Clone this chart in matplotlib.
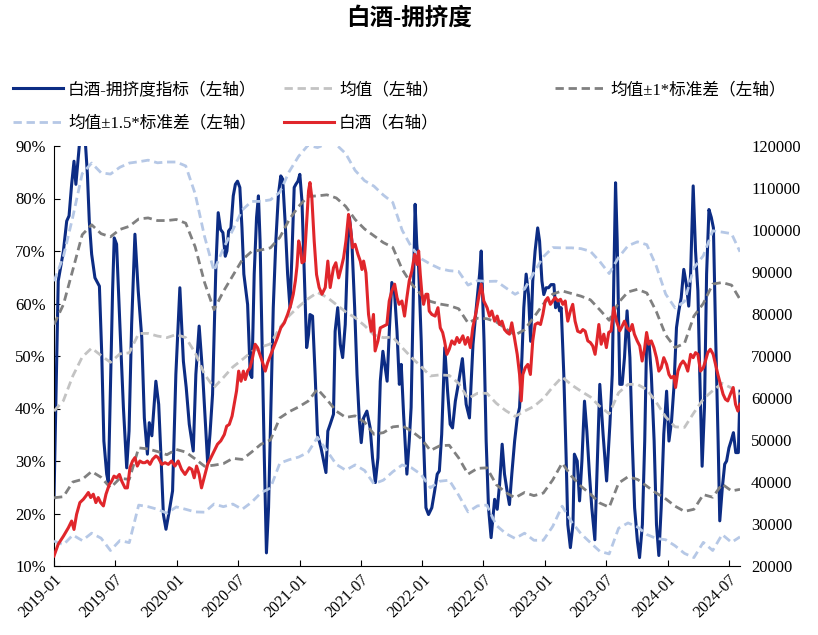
import numpy as np
import pandas as pd
import matplotlib
matplotlib.use("Agg")
import matplotlib.pyplot as plt
import matplotlib.dates as mdates
from matplotlib.ticker import FuncFormatter, MultipleLocator

FONTS = ['Liberation Serif', 'Noto Sans CJK SC']
plt.rcParams['font.family'] = FONTS

START = pd.Timestamp('2019-01-01')

# ---- data: x values are weeks since 2019-01-01 ----
blue_wk = [0, 1.8, 4.0, 5.4, 6.4, 7.5, 8.5, 9.3, 11.0, 13.2, 14.2, 15.0, 16.0, 17.4, 19.3, 20.3,
           21.2, 22.4, 23.1, 23.8, 24.9, 25.6, 26.6, 28.0, 29.5, 30.9, 31.9, 33.0, 34.4, 35.8,
           37.3, 38.4, 39.7, 40.5, 41.6, 43.3, 44.5, 45.5, 46.5, 47.6, 49.0, 50.4, 51.8, 53.5,
           55.0, 56.2, 57.5, 59.2, 60.3, 61.7, 63.2, 64.6, 65.3, 66.3, 67.4, 68.8, 69.8, 70.8,
           71.8, 72.8, 73.5, 74.2, 75.2, 76.2, 77.1, 78.0, 79.0, 79.9, 80.7, 82.3, 83.4, 84.1,
           85.1, 86.1, 86.9, 87.6, 88.7, 89.4, 90.3, 91.2, 92.2, 93.2, 94.3, 95.4, 96.4, 97.2,
           98.3, 99.3, 100.3, 101.1, 102.1, 102.8, 103.7, 104.5, 105.4, 106.4, 107.4, 108.2,
           108.8, 109.9, 111.0, 112.0, 113.5, 115.6, 116.4, 117.4, 118.8, 119.5, 120.6, 121.7,
           122.7, 123.8, 124.9, 125.6, 126.6, 127.8, 128.8, 129.8, 130.6, 131.6, 133.0, 134.4,
           135.4, 136.6, 137.7, 138.7, 139.8, 140.8, 141.6, 142.6, 143.6, 144.7, 145.8, 146.8,
           147.6, 148.6, 150.0, 151.0, 151.8, 152.8, 153.5, 154.2, 155.0, 156.1, 157.1, 158.1,
           159.2, 160.6, 161.8, 162.9, 163.8, 164.8, 166.1, 167.3, 168.4, 169.4, 170.6, 172.0,
           173.6, 175.2, 176.6, 178.1, 179.5, 180.9, 181.6, 182.8, 183.7, 184.7, 185.8, 187.3,
           188.4, 189.4, 190.5, 191.5, 192.6, 193.6, 194.6, 195.8, 196.9, 197.9, 198.9, 199.7,
           200.7, 201.7, 202.6, 203.5, 204.5, 205.6, 206.4, 207.4, 208.2, 209.2, 210.2, 211.3,
           212.5, 213.2, 214.2, 214.9, 215.6, 216.7, 217.7, 218.4, 219.5, 220.6, 221.2, 222.4,
           223.4, 224.4, 225.5, 226.5, 227.6, 228.6, 229.9, 232.0, 233.4, 234.9, 236.3, 237.3,
           238.0, 238.7, 239.4, 240.5, 241.5, 242.5, 243.6, 244.8, 245.8, 246.8, 248.0, 248.9,
           250.1, 251.1, 251.9, 252.9, 253.9, 255.1, 256.1, 257.1, 258.1, 259.2, 260.4, 261.4,
           262.5, 263.5, 264.6, 265.6, 266.6, 267.7, 268.8, 269.8, 270.6, 271.7, 272.7, 273.7,
           274.5, 275.5, 276.5, 277.4, 278.4, 279.4, 280.3, 281.3, 282.3, 283.0, 284.1, 285.1,
           285.9, 286.9, 287.8, 288.8, 289.8, 290.9, 291.6]
blue_val = [23.0, 64.3, 70.0, 75.7, 76.7, 82.7, 87.1, 82.7, 91.3, 91.6, 84.6, 75.7, 69.4, 64.9, 63.3, 50.3,
            33.8, 27.5, 25.9, 40.2, 62.4, 72.5, 71.3, 56.0, 40.2, 28.7, 35.7, 56.0, 73.2, 62.4,
            53.5, 38.2, 31.3, 37.3, 34.8, 45.2, 40.8, 30.6, 19.8, 17.0, 20.5, 24.3, 46.5, 63.0,
            49.0, 44.0, 37.0, 31.9, 46.5, 55.7, 46.5, 35.1, 29.7, 35.1, 42.7, 66.8, 77.3, 74.1,
            73.5, 69.0, 70.0, 73.8, 74.4, 80.5, 82.7, 83.3, 82.1, 74.4, 65.6, 59.8, 46.5, 45.9,
            65.6, 76.4, 80.5, 71.9, 46.5, 30.6, 12.5, 21.1, 40.2, 59.2, 71.9, 80.8, 84.3, 83.7,
            75.1, 65.6, 59.2, 68.7, 82.1, 82.7, 83.3, 84.6, 79.5, 65.6, 51.6, 54.1,
            57.9, 57.6, 46.5, 35.1, 32.5, 27.8, 35.7, 37.0, 38.9, 54.7, 59.2, 52.2,
            49.7, 56.0, 71.3, 76.4, 71.9, 59.2, 46.5, 37.6, 33.5, 38.2, 39.5, 36.3,
            30.6, 25.9, 30.6, 45.2, 50.9, 47.8, 45.2, 55.4, 64.0, 62.4, 54.7, 44.6,
            48.4, 38.9, 27.5, 33.8, 40.2, 62.4, 78.9, 71.3, 66.8, 52.8, 33.8, 21.1,
            19.8, 21.1, 24.3, 27.5, 28.1, 35.1, 51.6, 43.3, 37.0, 36.3, 41.4, 45.0,
            49.5, 40.8, 38.2, 52.2, 59.2, 65.6, 70.0, 52.8, 33.8, 21.1, 15.4, 22.7,
            20.8, 25.5, 33.2, 27.5, 24.3, 21.7, 27.5, 33.8, 38.2, 40.2, 49.7, 59.2,
            65.6, 61.7, 52.8, 64.3, 70.0, 74.4, 71.9, 64.3, 61.7, 63.0, 63.0, 63.6,
            63.6, 59.2, 60.5, 58.6, 59.2, 46.5, 30.6, 17.9, 13.5, 17.9, 31.3, 30.0,
            22.4, 30.0, 41.4, 35.7, 27.5, 21.1, 15.0, 44.6, 35.1, 26.2, 37.0, 46.5,
            65.6, 83.0, 71.9, 44.6, 44.6, 49.7, 58.6, 49.7, 33.8, 21.1, 14.7, 11.6,
            17.9, 33.8, 52.8, 52.8, 46.5, 33.8, 17.9, 12.0, 21.1, 35.1, 43.3, 33.8,
            37.6, 44.0, 55.4, 58.6, 61.1, 66.5, 63.6, 59.5, 65.6, 82.4, 70.0, 62.4,
            46.5, 29.0, 40.2, 65.6, 77.9, 76.4, 74.4, 52.8, 33.8, 18.6, 25.0, 29.4,
            30.0, 32.5, 33.8, 35.4, 31.6, 31.6, 43.3]

red_wk = [0, 1.8, 4.0, 6.1, 7.5, 8.5, 9.6, 11.0, 12.5, 13.6, 14.6, 15.6, 16.7, 17.8, 18.8, 19.8,
          21.0, 22.1, 23.5, 24.5, 25.5, 26.6, 27.8, 28.8, 30.2, 31.2, 32.3, 33.4, 34.4, 35.4,
          36.5, 37.7, 38.7, 39.7, 40.8, 41.9, 43.3, 44.3, 45.8, 47.2, 48.6, 50.0, 51.4, 52.8,
          54.2, 55.7, 57.5, 58.6, 59.6, 60.6, 61.7, 62.7, 63.8, 65.3, 66.7, 68.1, 69.5, 70.9,
          72.4, 73.4, 74.5, 75.7, 76.6, 77.6, 78.5, 79.5, 80.5, 81.3, 82.3, 83.3, 84.4, 85.5,
          86.5, 87.5, 88.7, 89.8, 90.8, 92.2, 93.6, 95.0, 96.4, 97.9, 99.3, 100.7, 101.7, 102.6,
          103.3, 104.0, 104.7, 105.4, 106.4, 107.4, 108.2, 108.8, 109.6, 110.6, 111.6, 112.7,
          113.9, 115.3, 116.4, 117.4, 118.8, 119.8, 121.0, 122.1, 123.1, 124.1, 125.2, 125.9,
          126.9, 128.0, 129.2, 130.2, 130.9, 131.6, 132.6, 133.7, 134.8, 135.8, 136.5, 137.7,
          138.7, 140.1, 141.5, 142.5, 143.6, 144.8, 145.8, 146.7, 147.9, 149.0, 150.0, 151.0,
          152.1, 153.3, 154.3, 155.0, 155.7, 156.4, 157.1, 158.1, 158.9, 159.5, 160.6, 162.0,
          163.2, 164.2, 165.2, 166.0, 167.0, 168.0, 169.1, 170.3, 171.3, 172.3, 173.8, 174.8,
          175.9, 177.0, 178.0, 179.5, 180.5, 181.6, 182.7, 184.1, 185.1, 186.1, 187.3, 188.4,
          189.4, 190.4, 191.5, 192.6, 193.6, 194.6, 195.7, 196.9, 197.9, 198.6, 199.3, 200.3,
          201.4, 202.5, 203.5, 204.5, 205.7, 206.8, 207.8, 208.8, 209.9, 211.0, 212.0, 213.0,
          214.2, 215.3, 216.3, 217.3, 218.4, 219.5, 220.5, 221.5, 222.6, 223.8, 224.8, 225.8,
          226.9, 228.0, 229.0, 230.0, 230.6, 231.6, 232.6, 233.7, 234.8, 235.8, 236.8, 237.9,
          239.1, 240.5, 241.5, 242.5, 243.6, 244.8, 245.8, 246.7, 247.9, 249.0, 250.0, 251.0,
          251.9, 252.8, 253.9, 255.0, 256.1, 257.1, 258.1, 259.2, 260.4, 261.4, 262.3, 263.5,
          264.2, 265.2, 266.3, 267.4, 268.4, 269.4, 270.6, 271.7, 272.7, 273.7, 274.8, 276.0,
          276.9, 277.9, 279.0, 280.2, 281.2, 282.2, 283.3, 284.4, 285.4, 286.4, 287.5, 288.7,
          289.7, 290.7, 291.6]
red_val = [22400, 25200, 27100, 29100, 30700, 28700, 32300, 35100, 35900, 36700, 37500, 36300, 37100, 35100, 36300, 35100,
           34300, 37100, 39400, 40200, 41400, 41000, 41800, 40200, 38600, 38600, 43400, 45000, 45800, 43800,
           45000, 44600, 44600, 45000, 44200, 45400, 46200, 45800, 44200, 44600, 44200, 45000, 43800, 45000,
           43000, 41800, 43400, 43000, 41000, 43800, 41800, 38600, 41000, 44200, 45800, 47400, 49000, 49800,
           51300, 53300, 53700, 55700, 58500, 61700, 66400, 64000, 66400, 64400, 66400, 67200, 69600, 72800,
           72000, 70400, 68400, 66400, 68400, 70400, 72400, 74400, 76700, 77900, 79900, 82300, 84700, 87900,
           91400, 97400, 95800, 92200, 92600, 102100, 109300, 111300, 107700, 97400, 89400, 86300,
           84700, 86300, 92600, 86300, 91000, 92200, 88600, 91000, 93400, 97400, 103700, 101300,
           95800, 96600, 94200, 92600, 90600, 92600, 89800, 79900, 75900, 79900, 71200, 73600,
           76700, 77100, 77500, 83100, 85500, 87100, 83900, 82300, 83100, 79500, 83900, 87900,
           90200, 94200, 91800, 95000, 89400, 84700, 82300, 84700, 84700, 80700, 79900, 79500,
           81500, 76700, 75600, 73600, 70400, 71600, 73600, 72800, 74400, 73200, 74800, 72800,
           74400, 72000, 76700, 80700, 83900, 87100, 83100, 81500, 79500, 80700, 78300, 79500,
           77500, 78300, 76300, 75600, 75200, 77900, 74400, 70400, 65600, 59300, 65600, 67200,
           68000, 65600, 73600, 77500, 77900, 77500, 79900, 83100, 83900, 82300, 83100, 83900,
           83100, 83500, 82300, 83100, 78300, 80700, 82300, 78300, 75900, 75600, 76300, 75900,
           73600, 73200, 72400, 70400, 72800, 77500, 72800, 75200, 72000, 75600, 76000, 81500,
           78300, 76000, 77100, 78300, 76700, 76000, 77500, 75200, 73600, 72400, 68800, 71600,
           75600, 72800, 73600, 72000, 69600, 66400, 67200, 69600, 68000, 65600, 64800, 65200,
           62500, 66400, 68000, 68800, 68000, 66400, 70400, 69600, 70800, 70400, 66400, 67200,
           68800, 70800, 71600, 70400, 68000, 65600, 63300, 60900, 59700, 59300, 60900, 62500,
           58500, 56900, 58500]

# rolling mean and std of the crowding index
band_wk = [0, 4, 8, 12, 16, 20, 24, 28, 32, 36, 40, 44, 48, 52, 56, 60, 64, 68, 72, 76, 80, 84, 88,
           92, 96, 100, 104, 108, 112, 116, 120, 124, 128, 132, 136, 140, 144, 148, 152, 156, 160,
           164, 168, 172, 176, 180, 184, 188, 192, 196, 200, 204, 208, 212, 216, 220, 224, 228,
           232, 236, 240, 244, 248, 252, 256, 260, 264, 268, 272, 276, 280, 284, 288, 291.6]
mean_val = [39.5, 41.5, 46.2, 49.8, 51.5, 50.1, 48.8, 50.4, 50.6, 54.3, 54.3, 53.8, 53.5, 54.1, 53.5,
            50.6, 46.5, 44.0, 45.9, 47.9, 49.3, 50.8, 51.7, 52.3, 55.4, 57.7, 59.4, 60.9, 62.1, 61.2,
            59.8, 58.4, 57.3, 55.8, 54.0, 53.5, 53.6, 51.6, 49.7, 48.0, 46.2, 46.4, 46.3, 44.8, 41.9,
            42.9, 42.9, 41.0, 39.6, 38.5, 39.5, 40.4, 41.9, 44.1, 46.0, 44.5, 43.3, 42.2, 40.4, 39.0,
            43.0, 44.6, 44.6, 43.6, 41.2, 38.4, 36.5, 36.4, 39.2, 41.8, 43.4, 44.8, 43.9, 42.7]
up1_val = [56.0, 59.8, 66.4, 73.1, 75.0, 73.3, 72.7, 74.1, 74.7, 76.1, 76.3, 75.8, 75.8, 76.0, 75.3,
           70.8, 64.0, 58.8, 62.3, 65.3, 68.3, 69.9, 70.2, 70.6, 72.6, 76.0, 78.5, 80.4, 80.5, 80.7,
           80.1, 78.5, 76.0, 74.2, 72.9, 71.6, 70.7, 66.5, 63.7, 61.7, 60.4, 59.9, 59.6, 59.0, 56.3,
           57.2, 57.1, 56.5, 55.2, 54.0, 55.0, 57.4, 59.9, 61.8, 62.4, 61.9, 61.4, 60.7, 58.8, 56.8,
           60.2, 62.2, 62.7, 62.0, 58.5, 54.0, 51.6, 52.4, 57.6, 60.0, 63.7, 64.0, 63.5, 60.8]

LABELS = ['白酒-拥挤度指标（左轴）', '均值（左轴）', '均值±1*标准差（左轴）',
          '均值±1.5*标准差（左轴）', '白酒（右轴）']


def to_dates(wk):
    return START + pd.to_timedelta(np.asarray(wk) * 7, unit='D')


blue_x, red_x, band_x = to_dates(blue_wk), to_dates(red_wk), to_dates(band_wk)
mean_arr = np.array(mean_val)
std_arr = np.array(up1_val) - mean_arr

C_BLUE, C_RED = '#0c2c84', '#e0262b'
C_MEAN, C_STD1, C_STD15 = '#c3c3c3', '#808080', '#b6c8e6'
DASH = (3.0, 1.7)

fig = plt.figure(figsize=(8.18, 6.35), dpi=100)
ax = fig.add_axes([54 / 818, 1 - 566 / 635, 686 / 818, 420 / 635])
ax2 = ax.twinx()

h_blue, = ax.plot(blue_x, blue_val, color=C_BLUE, lw=2.2, zorder=2)
h_mean, = ax.plot(band_x, mean_arr, color=C_MEAN, lw=2.0, dashes=DASH, zorder=3)
h_s1, = ax.plot(band_x, mean_arr + std_arr, color=C_STD1, lw=2.0, dashes=DASH, zorder=3)
ax.plot(band_x, mean_arr - std_arr, color=C_STD1, lw=2.0, dashes=DASH, zorder=3)
h_s15, = ax.plot(band_x, mean_arr + 1.5 * std_arr, color=C_STD15, lw=2.0, dashes=DASH, zorder=3)
ax.plot(band_x, mean_arr - 1.5 * std_arr, color=C_STD15, lw=2.0, dashes=DASH, zorder=3)
h_red, = ax2.plot(red_x, red_val, color=C_RED, lw=2.2)

ax.set_xlim(blue_x[0], blue_x[-1])
ax.set_ylim(10, 90)
ax2.set_ylim(20000, 120000)
ax.yaxis.set_major_locator(MultipleLocator(10))
ax.yaxis.set_major_formatter(FuncFormatter(lambda v, p: f'{v:.0f}%'))
ax2.yaxis.set_major_locator(MultipleLocator(10000))
ax2.yaxis.set_major_formatter(FuncFormatter(lambda v, p: f'{v:.0f}'))

ax.xaxis.set_major_locator(mdates.MonthLocator(bymonth=[1, 7]))
ax.xaxis.set_major_formatter(mdates.DateFormatter('%Y-%m'))

for a in (ax, ax2):
    for s in ('top', 'right'):
        a.spines[s].set_visible(False)
ax2.spines['left'].set_visible(False)
ax2.spines['bottom'].set_visible(False)

ax.tick_params(axis='y', direction='in', length=4, labelsize=12, pad=6)
ax.tick_params(axis='x', direction='in', length=4, labelsize=11.5, pad=4)
ax2.tick_params(axis='y', length=0, labelsize=12, pad=8)
for lab in ax.get_xticklabels():
    lab.set_rotation(45)
    lab.set_ha('right')
    lab.set_rotation_mode('anchor')

fig.text(409 / 818, 1 - 18 / 635, '白酒-拥挤度', ha='center', va='center',
         fontsize=17, fontweight='bold')

leg_kw = dict(frameon=False, fontsize=12, handlelength=3.0, handletextpad=0.3,
              borderpad=0, borderaxespad=0, labelspacing=1.05, loc='upper left')
top = 1 - 82 / 635
fig.legend([h_blue, h_s15], [LABELS[0], LABELS[3]], bbox_to_anchor=(13 / 818, top), **leg_kw)
fig.legend([h_mean, h_red], [LABELS[1], LABELS[4]], bbox_to_anchor=(284 / 818, top), **leg_kw)
fig.legend([h_s1], [LABELS[2]], bbox_to_anchor=(555 / 818, top), **leg_kw)

fig.savefig('out.png', dpi=100)
